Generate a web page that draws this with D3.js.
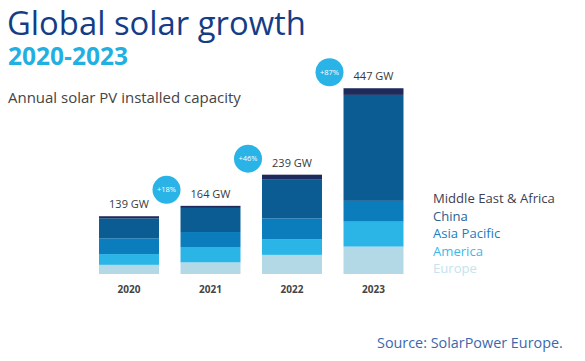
<!DOCTYPE html>
<html>
<head>
<meta charset="utf-8">
<script src="https://cdn.jsdelivr.net/npm/d3@7"></script>
<style>
  body { margin: 0; background: #fff; }
  svg { display: block; font-family: "Open Sans", "Noto Sans", sans-serif; }
</style>
</head>
<body>
<div id="chart"></div>
<script>
// data (GW)
var years = ["2020", "2021", "2022", "2023"];
var regions = ["Europe", "America", "Asia Pacific", "China", "Middle East & Africa"];
var europe = [22, 28, 46, 66];
var america = [26, 37, 38, 60];
var asiaPacific = [38, 36, 50, 50];
var china = [48, 58, 93, 255];
var middleEastAfrica = [5, 5, 12, 16];
var totalLabels = ["139 GW", "164 GW", "239 GW", "447 GW"];
var growthLabels = ["+18%", "+46%", "+87%"];

var colors = {
  "Europe": "#b3d9e6",
  "America": "#2bb5e6",
  "Asia Pacific": "#0b7dbd",
  "China": "#0b5c92",
  "Middle East & Africa": "#1d2a5b"
};
var legendColors = {
  "Middle East & Africa": "#3b3f52",
  "China": "#2a5f8e",
  "Asia Pacific": "#1b7cc0",
  "America": "#3cb9ea",
  "Europe": "#c4e3ee"
};

var width = 585, height = 361;

var svg = d3.select("#chart").append("svg")
  .attr("width", width)
  .attr("height", height);

// scale a text's font size so it spans the width seen in the picture
function fit(sel, target) {
  var w = sel.node().getComputedTextLength();
  var fs = parseFloat(sel.attr("font-size"));
  sel.attr("font-size", fs * target / w);
  return sel;
}

// titles
fit(svg.append("text")
  .attr("x", 7).attr("y", 35)
  .attr("font-size", 33)
  .attr("fill", "#153d86")
  .text("Global solar growth"), 299);
fit(svg.append("text")
  .attr("x", 8).attr("y", 65)
  .attr("font-size", 23)
  .attr("font-weight", "bold")
  .attr("fill", "#22b0e3")
  .text("2020-2023"), 120);
fit(svg.append("text")
  .attr("x", 8).attr("y", 103)
  .attr("font-size", 13.5)
  .attr("fill", "#444")
  .text("Annual solar PV installed capacity"), 233);

// build rows for the stack
var rows = years.map(function(y, i) {
  return {
    year: y,
    "Europe": europe[i],
    "America": america[i],
    "Asia Pacific": asiaPacific[i],
    "China": china[i],
    "Middle East & Africa": middleEastAfrica[i]
  };
});
var series = d3.stack().keys(regions)(rows);
var topSeries = series[series.length - 1];

var x = d3.scaleBand()
  .domain(years)
  .range([77.5, 425])
  .padding(0.264);

var y = d3.scaleLinear()
  .domain([0, 450])
  .range([274, 87]);

svg.append("g").selectAll("g")
  .data(series)
  .join("g")
    .attr("fill", function(d) { return colors[d.key]; })
  .selectAll("rect")
  .data(function(d) { return d; })
  .join("rect")
    .attr("x", function(d) { return x(d.data.year); })
    .attr("y", function(d) { return y(d[1]); })
    .attr("width", x.bandwidth())
    .attr("height", function(d) { return y(d[0]) - y(d[1]); });

// totals above bars
svg.append("g").selectAll("text")
  .data(years)
  .join("text")
    .attr("x", function(d) { return x(d) + x.bandwidth() / 2; })
    .attr("y", function(d, i) { return y(topSeries[i][1]) - 8; })
    .attr("text-anchor", "middle")
    .attr("font-size", 11)
    .attr("fill", "#3a3a3a")
    .text(function(d, i) { return totalLabels[i]; });

// year labels
var xAxis = svg.append("g")
  .attr("transform", "translate(0,274)")
  .call(d3.axisBottom(x).tickSize(0).tickPadding(12));
xAxis.select(".domain").remove();
xAxis.selectAll("text")
  .attr("font-size", 10)
  .attr("font-weight", "bold")
  .attr("font-family", "'Open Sans', 'Noto Sans', sans-serif")
  .attr("fill", "#444");

// growth bubbles, left of each later bar's label
var bubbles = svg.append("g").selectAll("g")
  .data(growthLabels)
  .join("g")
    .attr("transform", function(d, i) {
      var yr = years[i + 1];
      var cx = x(yr) - 14;
      var cy = y(topSeries[i + 1][1]) - 16;
      return "translate(" + cx + "," + cy + ")";
    });
bubbles.append("circle")
  .attr("r", 14)
  .attr("fill", "#2ab3e6");
bubbles.append("text")
  .attr("text-anchor", "middle")
  .attr("dy", "0.35em")
  .attr("font-size", 7.5)
  .attr("fill", "#fff")
  .text(function(d) { return d; });

// legend
var legendOrder = regions.slice().reverse();
var legend = svg.append("g").selectAll("text")
  .data(legendOrder)
  .join("text")
    .attr("x", 433)
    .attr("y", function(d, i) { return 203 + i * 17.6; })
    .attr("font-size", 12.5)
    .attr("fill", function(d) { return legendColors[d]; })
    .text(function(d) { return d; });
var lw = legend.nodes()[0].getComputedTextLength();
legend.attr("font-size", 12.5 * 122 / lw);

// source
fit(svg.append("text")
  .attr("x", 377).attr("y", 348)
  .attr("font-size", 13.5)
  .attr("fill", "#3a68ae")
  .text("Source: SolarPower Europe."), 186);
</script>
</body>
</html>
